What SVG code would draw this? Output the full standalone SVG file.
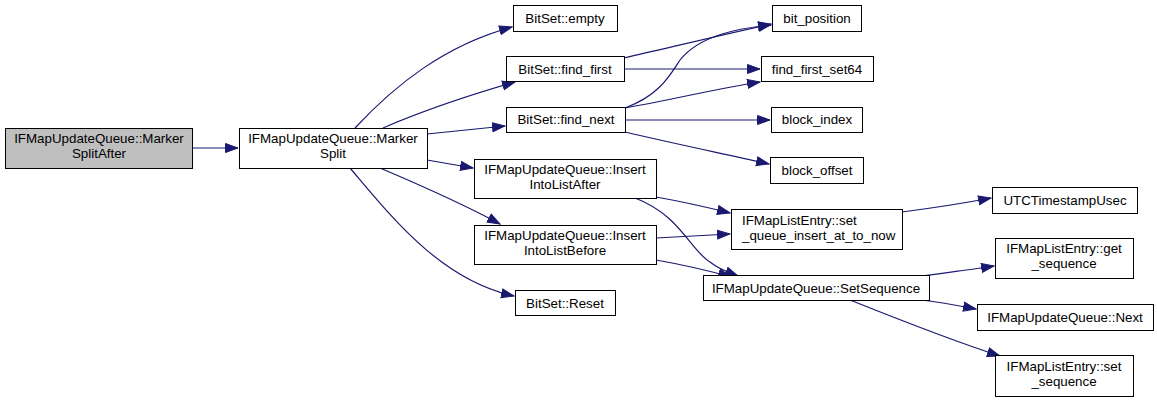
<svg xmlns="http://www.w3.org/2000/svg" width="1157" height="402" viewBox="0 0 1157 402">
<style>
.n rect{fill:#fff;stroke:#000;stroke-width:1}
.n text{font-family:"Liberation Sans",Arial,sans-serif;font-size:13.33px;fill:#000;text-anchor:middle}
#edges path{fill:none;stroke:#191970;stroke-width:1.2;marker-end:url(#ah)}
</style>
<defs>
<marker id="ah" markerUnits="userSpaceOnUse" markerWidth="14" markerHeight="11" refX="13" refY="5" orient="auto" viewBox="0 0 14 10">
<path d="M0.5,0.5 L13,5 L0.5,9.5 Z" fill="#191970" stroke="#191970"/>
</marker>
</defs>
<rect width="1157" height="402" fill="#fff"/>
<g id="edges">
<path d="M192,148 L238,148"/>
<path d="M355,128 C395,85 445,45 512,27"/>
<path d="M383,128 C420,112 470,95 515,82"/>
<path d="M427,134 L505,126"/>
<path d="M427,160 L473,168"/>
<path d="M380,168 C420,185 465,205 500,224"/>
<path d="M350,168 C390,215 440,280 514,296"/>
<path d="M624,58 C680,45 730,33 771,24"/>
<path d="M624,69 L760,69"/>
<path d="M625,108 C660,95 670,75 680,60 C700,35 740,28 771,25"/>
<path d="M625,108 C680,98 720,88 760,82"/>
<path d="M625,120 L770,120"/>
<path d="M625,132 C680,145 730,155 769,164"/>
<path d="M656,197 C690,203 710,208 730,213"/>
<path d="M635,198 C680,215 690,250 710,262 C720,270 730,273 738,276"/>
<path d="M656,238 C690,236 710,235 730,234"/>
<path d="M656,260 C690,266 710,271 731,277"/>
<path d="M902,212 C940,207 965,203 991,198"/>
<path d="M922,276 C950,272 975,269 994,266"/>
<path d="M922,300 C945,303 960,306 976,309"/>
<path d="M850,300 C900,320 950,340 1000,356"/>
</g>
<g id="n1" class="n"><rect x="5.5" y="128.5" width="187" height="40" style="fill:#bfbfbf"/><text x="99" y="143">IFMapUpdateQueue::Marker</text><text x="99" y="158">SplitAfter</text></g>
<g id="n2" class="n"><rect x="239.5" y="128.5" width="188" height="40"/><text x="333" y="143">IFMapUpdateQueue::Marker</text><text x="333" y="158">Split</text></g>
<g id="n3" class="n"><rect x="513.5" y="5.5" width="104" height="26"/><text x="565" y="23">BitSet::empty</text></g>
<g id="n4" class="n"><rect x="506.5" y="56.5" width="118" height="25"/><text x="565" y="74">BitSet::find_first</text></g>
<g id="n5" class="n"><rect x="506.5" y="107.5" width="119" height="25"/><text x="566" y="124">BitSet::find_next</text></g>
<g id="n6" class="n"><rect x="772.5" y="5.5" width="89" height="26"/><text x="817" y="23">bit_position</text></g>
<g id="n7" class="n"><rect x="761.5" y="56.5" width="112" height="25"/><text x="817" y="74">find_first_set64</text></g>
<g id="n8" class="n"><rect x="771.5" y="107.5" width="91" height="25"/><text x="817" y="124">block_index</text></g>
<g id="n9" class="n"><rect x="770.5" y="157.5" width="93" height="26"/><text x="817" y="175">block_offset</text></g>
<g id="n10" class="n"><rect x="474.5" y="159.5" width="182" height="39"/><text x="565" y="174">IFMapUpdateQueue::Insert</text><text x="565" y="189">IntoListAfter</text></g>
<g id="n11" class="n"><rect x="474.5" y="225.5" width="182" height="39"/><text x="565" y="240">IFMapUpdateQueue::Insert</text><text x="565" y="255">IntoListBefore</text></g>
<g id="n12" class="n"><rect x="515.5" y="290.5" width="100" height="25"/><text x="565" y="308">BitSet::Reset</text></g>
<g id="n13" class="n"><rect x="731.5" y="209.5" width="171" height="40"/><text x="742" y="225" style="text-anchor:start">IFMapListEntry::set</text><text x="742" y="240" style="text-anchor:start">_queue_insert_at_to_now</text></g>
<g id="n14" class="n"><rect x="703.5" y="275.5" width="226" height="25"/><text x="816" y="293">IFMapUpdateQueue::SetSequence</text></g>
<g id="n15" class="n"><rect x="992.5" y="187.5" width="145" height="26"/><text x="1065" y="205">UTCTimestampUsec</text></g>
<g id="n16" class="n"><rect x="995.5" y="238.5" width="138" height="40"/><text x="1064" y="253">IFMapListEntry::get</text><text x="1064" y="268">_sequence</text></g>
<g id="n17" class="n"><rect x="977.5" y="304.5" width="176" height="26"/><text x="1065" y="322">IFMapUpdateQueue::Next</text></g>
<g id="n18" class="n"><rect x="995.5" y="355.5" width="138" height="41"/><text x="1064" y="371">IFMapListEntry::set</text><text x="1064" y="386">_sequence</text></g>
</svg>
